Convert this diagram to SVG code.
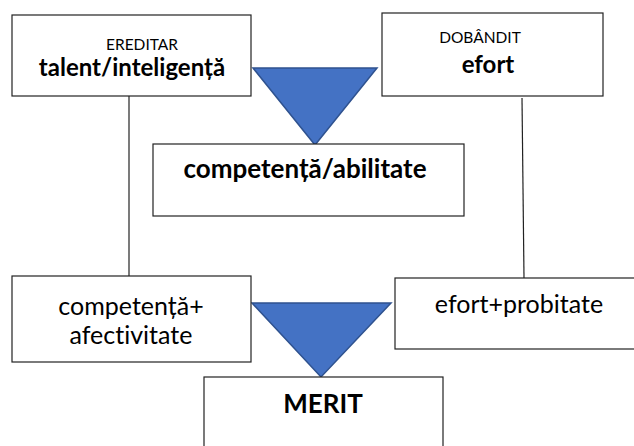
<svg xmlns="http://www.w3.org/2000/svg" width="634" height="446" viewBox="0 0 634 446">
<style>
.box{fill:#fff;stroke:#222;stroke-width:1.2}
.tri{fill:#4472C4;stroke:#2F528F;stroke-width:1.5;stroke-linejoin:miter}
.line{stroke:#222;stroke-width:1.2;fill:none}
text{font-family:Lato,"Open Sans","Liberation Sans",sans-serif;fill:#000;text-anchor:middle;font-variant-ligatures:none;font-feature-settings:"liga" 0,"dlig" 0}
.s{font-size:15.5px}
.m{font-size:25px}
.bm{font-size:24px;font-weight:bold}
.bl{font-size:26px;font-weight:bold}
</style>
<rect width="634" height="446" fill="#fff"/>
<g id="connectors">
<line class="line" x1="129" y1="96" x2="129" y2="277"/>
<line class="line" x1="522" y1="98" x2="524" y2="278"/>
</g>
<g id="tri1"><polygon class="tri" points="253,68 377,68 315,145"/></g>
<g id="ereditar">
<rect class="box" x="12" y="15" width="239" height="81"/>
<text class="s" x="142" y="50">EREDITAR</text>
<text class="bm" x="132" y="76">talent/inteligență</text>
</g>
<g id="dobandit">
<rect class="box" x="382" y="13" width="221" height="83"/>
<text class="s" x="480" y="43">DOBÂNDIT</text>
<text class="bm" x="488" y="73">efort</text>
</g>
<g id="competenta">
<rect class="box" x="153" y="144" width="311" height="72"/>
<text class="bl" x="305" y="178">competență/abilitate</text>
</g>
<g id="tri2"><polygon class="tri" points="252,303 391,303 321,377"/></g>
<g id="competenta-afectivitate">
<rect class="box" x="12" y="276" width="239" height="86"/>
<text class="m" x="131" y="315">competență+</text>
<text class="m" x="131" y="344">afectivitate</text>
</g>
<g id="efort-probitate">
<rect class="box" x="395" y="278" width="260" height="71"/>
<text class="m" x="519" y="313">efort+probitate</text>
</g>
<g id="merit">
<rect class="box" x="204" y="377" width="239" height="80"/>
<text class="bl" x="323" y="413">MERIT</text>
</g>
</svg>
